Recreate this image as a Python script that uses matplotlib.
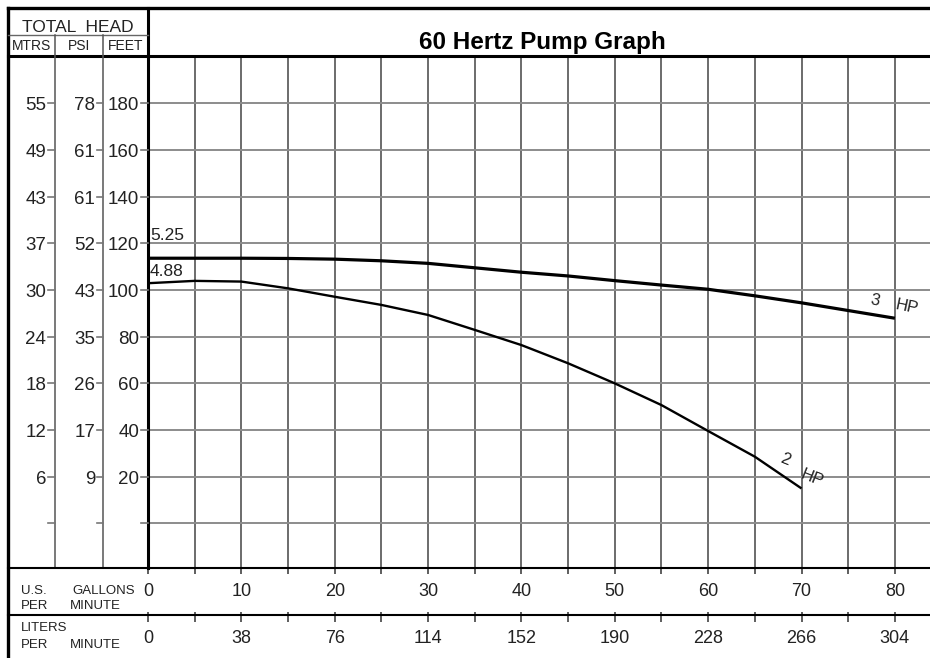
import matplotlib
matplotlib.use('Agg')
import matplotlib.pyplot as plt
import matplotlib.transforms as mtransforms
from matplotlib.lines import Line2D

# ---- data ----
gpm_3hp = [0, 5, 10, 15, 20, 25, 30, 35, 40, 45, 50, 55, 60, 65, 70, 75, 80]
head_3hp = [113.6, 113.6, 113.6, 113.5, 113.2, 112.5, 111.4, 109.5, 107.6,
            106.0, 104.0, 102.1, 100.3, 97.5, 94.5, 91.2, 87.9]

gpm_2hp = [0, 5, 10, 15, 20, 25, 30, 35, 40, 45, 50, 55, 60, 65, 70]
head_2hp = [102.9, 103.9, 103.6, 100.7, 97.1, 93.6, 89.3, 82.9, 76.4,
            68.6, 60.0, 50.7, 39.6, 28.6, 15.0]

feet_ticks = [180, 160, 140, 120, 100, 80, 60, 40, 20, 0]
mtrs_labels = ['55', '49', '43', '37', '30', '24', '18', '12', '6', '']
psi_labels = ['78', '61', '61', '52', '43', '35', '26', '17', '9', '']
feet_labels = ['180', '160', '140', '120', '100', '80', '60', '40', '20', '']

gpm_ticks = [0, 10, 20, 30, 40, 50, 60, 70, 80]
lpm_labels = ['0', '38', '76', '114', '152', '190', '228', '266', '304']
minor_gpm = list(range(0, 85, 5))

FONT = 'Liberation Sans'
INK = '#222222'

W, H = 930, 658
fig = plt.figure(figsize=(W / 100, H / 100), dpi=100)
fig.patch.set_facecolor('white')
# pixel coordinates, origin top-left
px = mtransforms.Affine2D().scale(1 / W, -1 / H).translate(0, 1) + fig.transFigure

X0, X1 = 148, 930
Y_TOP, Y_BOT = 56, 568
ax = fig.add_axes([X0 / W, 1 - Y_BOT / H, (X1 - X0) / W, (Y_BOT - Y_TOP) / H])
ax.set_xlim(0, 83.76)
ax.set_ylim(-19.06, 200.2)
ax.set_xticks(minor_gpm)
ax.set_yticks(feet_ticks)
ax.tick_params(length=0, labelleft=False, labelbottom=False)
ax.xaxis.grid(True, color='#444444', lw=1.1)
ax.yaxis.grid(True, color='#8c8c8c', lw=1.4)
ax.set_axisbelow(True)
ax.spines['right'].set_visible(False)
ax.spines['left'].set_linewidth(2.2)
ax.spines['top'].set_linewidth(2.2)
ax.spines['bottom'].set_linewidth(1.5)
for s in ax.spines.values():
    s.set_color('black')

# curves
ax.plot(gpm_3hp, head_3hp, color='black', lw=2.3, solid_capstyle='butt', zorder=3)
ax.plot(gpm_2hp, head_2hp, color='black', lw=1.7, solid_capstyle='butt', zorder=3)

ax.text(0.2, 121.4, '5.25', family=FONT, size=12.5, color=INK, ha='left', va='baseline')
ax.text(0.2, 106.0, '4.88', family=FONT, size=12.5, color=INK, ha='left', va='baseline')
ax.text(77.86, 95.4, '3', family=FONT, size=12, color=INK, ha='center', va='center',
        rotation=-12, clip_on=False)
ax.text(81.26, 92.8, 'HP', family=FONT, size=12, color=INK, ha='center', va='center',
        rotation=-12, clip_on=False)
ax.text(68.2, 27.2, '2', family=FONT, size=12, color=INK, ha='center', va='center',
        rotation=-22)
ax.text(71.08, 19.4, 'HP', family=FONT, size=12, color=INK, ha='center', va='center',
        rotation=-22)


def line(xs, ys, lw, color='black'):
    fig.add_artist(Line2D(xs, ys, transform=px, lw=lw, color=color,
                          solid_capstyle='projecting'))


# frame and header cells
line([8, 930], [8, 8], 2.4)
line([8, 8], [8, 658], 2.4)
line([148, 148], [8, 56], 2.2)
line([8, 148], [35, 35], 1.0, '#666666')
line([8, 148], [56, 56], 2.2)
line([55, 55], [35, 568], 1.1, '#555555')
line([103, 103], [35, 568], 1.1, '#555555')
line([8, 148], [568, 568], 1.5)
line([8, 930], [615, 615], 1.5)

fig.text(542, 49.5, '60 Hertz Pump Graph', transform=px, family=FONT, weight='bold',
         size=17.5, ha='center', va='baseline', color='black')
fig.text(78, 31.5, 'TOTAL  HEAD', transform=px, family=FONT, size=12.5,
         ha='center', va='baseline', color=INK)
for cx, name in [(31.5, 'MTRS'), (79, 'PSI'), (126, 'FEET')]:
    fig.text(cx, 50, name, transform=px, family=FONT, size=10,
             ha='center', va='baseline', color=INK)

# head scales in the three left columns
col = mtransforms.blended_transform_factory(px, ax.transData)
for i, ft in enumerate(feet_ticks):
    for lab, xr, d0, d1 in [(mtrs_labels[i], 46, 48, 55),
                            (psi_labels[i], 95, 97, 103),
                            (feet_labels[i], 139, 141, 148)]:
        fig.add_artist(Line2D([d0, d1], [ft, ft], transform=col, lw=1.2, color='#777777'))
        if lab:
            fig.text(xr, ft - 3.0, lab, transform=col, family=FONT, size=13.5,
                     ha='right', va='baseline', color=INK)

# flow rows
row = mtransforms.blended_transform_factory(ax.transData, px)
ax.vlines(minor_gpm, 568, 574, transform=row, colors='#333333', lw=1.1, clip_on=False)
ax.vlines(minor_gpm, 612, 622, transform=row, colors='#333333', lw=1.1, clip_on=False)
for g, lp in zip(gpm_ticks, lpm_labels):
    ax.text(g, 596.5, str(g), transform=row, family=FONT, size=13, color=INK,
            ha='center', va='baseline', clip_on=False)
    ax.text(g, 643, lp, transform=row, family=FONT, size=13, color=INK,
            ha='center', va='baseline', clip_on=False)

for x, y, s in [(21, 594, 'U.S.'), (72, 594, 'GALLONS'), (21, 609, 'PER'),
                (70, 609, 'MINUTE'), (21, 631, 'LITERS'), (21, 648, 'PER'),
                (70, 648, 'MINUTE')]:
    fig.text(x, y, s, transform=px, family=FONT, size=9.5, color=INK,
             ha='left', va='baseline')

fig.savefig('out.png', dpi=100)
